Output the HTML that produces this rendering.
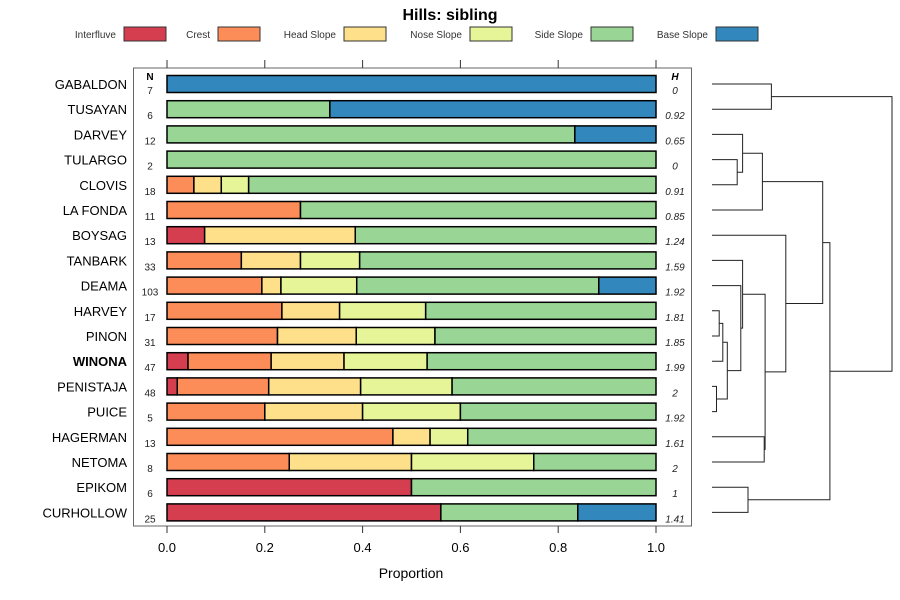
<!DOCTYPE html>
<html><head><meta charset="utf-8"><style>
body{margin:0;background:#fff}
svg{display:block;font-family:"Liberation Sans",sans-serif}
</style></head><body>
<svg id="c" width="900" height="600">
<text x="450" y="20" text-anchor="middle" font-size="16" font-weight="bold">Hills: sibling</text>
<g id="legend"></g>
<rect x="133.5" y="68" width="558" height="458" fill="none" stroke="#666"/>
<g id="axes"></g><g id="bars"></g><g id="dend"></g>
<text x="411" y="578" text-anchor="middle" font-size="14">Proportion</text>
</svg>
<script>
const classes=["Interfluve","Crest","Head Slope","Nose Slope","Side Slope","Base Slope"];
const colors=["#D53E4F","#FC8D59","#FEE08B","#E6F598","#99D594","#3288BD"];
const names=["GABALDON","TUSAYAN","DARVEY","TULARGO","CLOVIS","LA FONDA","BOYSAG","TANBARK","DEAMA","HARVEY","PINON","WINONA","PENISTAJA","PUICE","HAGERMAN","NETOMA","EPIKOM","CURHOLLOW"];
const counts=[7,6,12,2,18,11,13,33,103,17,31,47,48,5,13,8,6,25];
const entropy=["0","0.92","0.65","0","0.91","0.85","1.24","1.59","1.92","1.81","1.85","1.99","2","1.92","1.61","2","1","1.41"];
const interfluve=[0,0,0,0,0,0,0.077,0,0,0,0,0.043,0.021,0,0,0,0.5,0.56];
const crest=[0,0,0,0,0.055,0.273,0,0.152,0.194,0.235,0.226,0.170,0.187,0.2,0.462,0.25,0,0];
const head=[0,0,0,0,0.056,0,0.308,0.121,0.039,0.118,0.161,0.149,0.188,0.2,0.076,0.25,0,0];
const nose=[0,0,0,0,0.056,0,0,0.121,0.155,0.176,0.161,0.170,0.187,0.2,0.077,0.25,0,0];
const side=[0,0.333,0.834,1,0.833,0.727,0.615,0.606,0.495,0.471,0.452,0.468,0.417,0.4,0.385,0.25,0.5,0.28];
const base=[1,0.667,0.166,0,0,0,0,0,0.117,0,0,0,0,0,0,0,0,0.16];
const xTicks=[0,0.2,0.4,0.6,0.8,1];
const xTickLabels=["0.0","0.2","0.4","0.6","0.8","1.0"];
// dendrogram merges: [left,right,height]; negative = leaf index (-(i+1)), positive = merge index (1-based)
const merges=[[-1,-2,0.33],[-4,-5,0.14],[-3,2,0.17],[3,-6,0.28],[-10,-11,0.04],[5,-12,0.06],[-13,-14,0.025],[6,7,0.085],[-9,8,0.16],[-8,9,0.17],[-15,-16,0.29],[10,11,0.295],[-7,12,0.41],[4,13,0.615],[-17,-18,0.2],[14,15,0.655],[1,16,1.0]];
const NS="http://www.w3.org/2000/svg";
const svg=document.getElementById('c');
function mk(t,a,p){const e=document.createElementNS(NS,t);for(const k in a)e.setAttribute(k,a[k]);(p||svg).appendChild(e);return e;}
const X0=167,X1=656;const xs=v=>X0+v*(X1-X0);
const Y0=84,DY=25.2;const ys=i=>Y0+i*DY;
// legend
const lg=document.getElementById('legend');
const swx=[124,218,344,470,591,716];
classes.forEach((c,i)=>{
 const t=mk('text',{x:swx[i]-8,y:38,'text-anchor':'end','font-size':10,fill:'#333'},lg);t.textContent=c;
 
 
 const r=mk('rect',{x:swx[i],y:27,width:42,height:14,fill:colors[i],stroke:'#333','stroke-width':1},lg);
 
 
});
// axes
const ax=document.getElementById('axes');
xTicks.forEach((v,i)=>{
 mk('line',{x1:xs(v),x2:xs(v),y1:60,y2:68,stroke:'#333'},ax);
 mk('line',{x1:xs(v),x2:xs(v),y1:526,y2:533,stroke:'#333'},ax);
 const t=mk('text',{x:xs(v),y:552,'text-anchor':'middle','font-size':13},ax);t.textContent=xTickLabels[i];
 
 
});
let t=mk('text',{x:150,y:80,'text-anchor':'middle','font-size':10,'font-weight':'bold'},ax);t.textContent='N';
t=mk('text',{x:675,y:80,'text-anchor':'middle','font-size':10,'font-weight':'bold','font-style':'italic'},ax);t.textContent='H';
const series=[interfluve,crest,head,nose,side,base];
const bg=document.getElementById('bars');
names.forEach((n,i)=>{
 const y=ys(i);
 const l=mk('text',{x:127,y:y+5,'text-anchor':'end','font-size':13,'font-weight':n==='WINONA'?'bold':'normal'},bg);l.textContent=n;
 
 
 const nt=mk('text',{x:150,y:y+10,'text-anchor':'middle','font-size':10,fill:'#222'},bg);nt.textContent=counts[i];
 
 
 const ht=mk('text',{x:675,y:y+10,'text-anchor':'middle','font-size':10,'font-style':'italic',fill:'#222'},bg);ht.textContent=entropy[i];
 
 
 let acc=0;
 series.forEach((s,k)=>{
  const v=s[i];if(v<=0)return;
  const r=mk('rect',{x:xs(acc),y:y-8.5,width:xs(acc+v)-xs(acc),height:17,fill:colors[k],stroke:'#000','stroke-width':1.5},bg);
  
  
  acc+=v;
 });
});
// dendrogram
const dg=document.getElementById('dend');
const DX0=712,DX1=892;const hx=h=>DX0+h*(DX1-DX0);
const pos=[];
function node(id){if(id<0)return {x:DX0,y:ys(-id-1)};return pos[id-1];}
merges.forEach((m,j)=>{
 const a=node(m[0]),b=node(m[1]);const x=hx(m[2]);
 mk('path',{d:`M${a.x},${a.y}H${x}V${b.y}H${b.x}`,fill:'none',stroke:'#222','stroke-width':1},dg);
 pos[j]={x:x,y:(a.y+b.y)/2};
});
</script>
</body></html>
